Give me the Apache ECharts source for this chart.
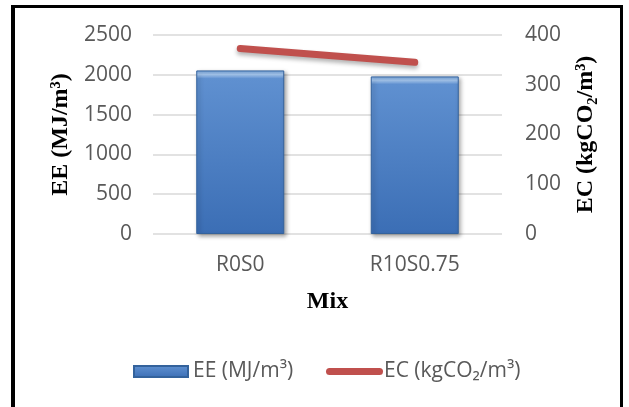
<!DOCTYPE html>
<html>
<head>
<meta charset="utf-8">
<script src="https://cdn.jsdelivr.net/npm/echarts@6/dist/echarts.min.js"></script>
<style>
  html, body { margin: 0; padding: 0; background: #ffffff; }
  #wrap { position: relative; width: 629px; height: 407px; overflow: hidden; }
  #frame {
    position: absolute; left: 11px; top: 5px; width: 612px; height: 420px;
    border-left: 4px solid #000; border-top: 3px solid #000; border-right: 3px solid #000;
    box-sizing: border-box; pointer-events: none;
  }
  #chart { position: absolute; left: 0; top: 0; width: 629px; height: 407px; }
</style>
</head>
<body>
<div id="wrap">
  <div id="chart"></div>
  <div id="frame"></div>
</div>
<script>
// Mixes and their embodied energy / embodied carbon
const mixes = ['R0S0', 'R10S0.75'];
const eeValues = [2055, 1980];   // MJ/m³
const ecValues = [373, 345];     // kgCO₂/m³
const eeTicks = { min: 0, max: 2500, interval: 500 };
const ecTicks = { min: 0, max: 400, interval: 100 };
const eeName = 'EE (MJ/m³)';
const ecName = 'EC (kgCO₂/m³)';

const tickFont = { fontFamily: 'Open Sans', fontSize: 21, color: '#595959' };
const titleFont = { fontFamily: 'Liberation Serif', fontWeight: 'bold', fontSize: 24, color: '#000' };
const plainNumber = v => String(v);

const barFill = new echarts.graphic.LinearGradient(0, 0, 0, 1, [
  { offset: 0, color: '#74a2da' },
  { offset: 0.025, color: '#a6c8f0' },
  { offset: 0.05, color: '#5f90d0' },
  { offset: 1, color: '#3b6eb5' }
]);
const lineColor = '#c0504d';

const chart = echarts.init(document.getElementById('chart'), null, { renderer: 'canvas' });

chart.setOption({
  animation: false,
  backgroundColor: '#ffffff',
  grid: { left: 153, right: 127, top: 35, bottom: 173 },
  legend: [
    {
      left: 128, top: 356,
      itemWidth: 54, itemHeight: 11,
      textStyle: { fontFamily: 'Open Sans', fontSize: 21, color: '#595959' },
      data: [{ name: eeName, icon: 'rect' }]
    },
    {
      left: 321, top: 356,
      itemWidth: 57, itemHeight: 7,
      textStyle: { fontFamily: 'Open Sans', fontSize: 21, color: '#595959', padding: [0, 0, 0, -4] },
      data: [{
        name: ecName,
        icon: 'path://M3.5,0 H53.5 A3.5,3.5 0 0 1 53.5,7 H3.5 A3.5,3.5 0 0 1 3.5,0 Z',
        itemStyle: { color: lineColor }
      }]
    }
  ],
  xAxis: {
    type: 'category',
    data: mixes,
    name: 'Mix',
    nameLocation: 'middle',
    nameGap: 56,
    nameTextStyle: titleFont,
    axisLine: { show: false },
    axisTick: { show: false },
    axisLabel: Object.assign({ margin: 21 }, tickFont)
  },
  yAxis: [
    {
      type: 'value',
      min: eeTicks.min, max: eeTicks.max, interval: eeTicks.interval,
      name: eeName,
      nameLocation: 'middle', nameRotate: 90, nameGap: 80,
      nameTextStyle: titleFont,
      axisLine: { show: false }, axisTick: { show: false },
      axisLabel: Object.assign({ margin: 21, formatter: plainNumber }, tickFont),
      splitLine: { lineStyle: { color: '#d9d9d9', width: 1.5 } }
    },
    {
      type: 'value',
      min: ecTicks.min, max: ecTicks.max, interval: ecTicks.interval,
      name: ecName,
      nameLocation: 'middle', nameRotate: 90, nameGap: 72,
      nameTextStyle: titleFont,
      axisLine: { show: false }, axisTick: { show: false },
      axisLabel: Object.assign({ margin: 23, formatter: plainNumber }, tickFont),
      splitLine: { show: false }
    }
  ],
  series: [
    {
      name: eeName,
      type: 'bar',
      yAxisIndex: 0,
      barWidth: 88,
      data: eeValues,
      itemStyle: {
        color: barFill,
        borderColor: '#33629c',
        borderWidth: 1,
        shadowColor: 'rgba(0,0,0,0.35)',
        shadowBlur: 4,
        shadowOffsetX: 2,
        shadowOffsetY: 2
      }
    },
    {
      name: ecName,
      type: 'line',
      yAxisIndex: 1,
      data: ecValues,
      symbol: 'none',
      lineStyle: {
        color: lineColor, width: 7, cap: 'round',
        shadowColor: 'rgba(0,0,0,0.3)', shadowBlur: 4, shadowOffsetY: 3
      },
      itemStyle: { color: lineColor }
    }
  ]
});
</script>
</body>
</html>
